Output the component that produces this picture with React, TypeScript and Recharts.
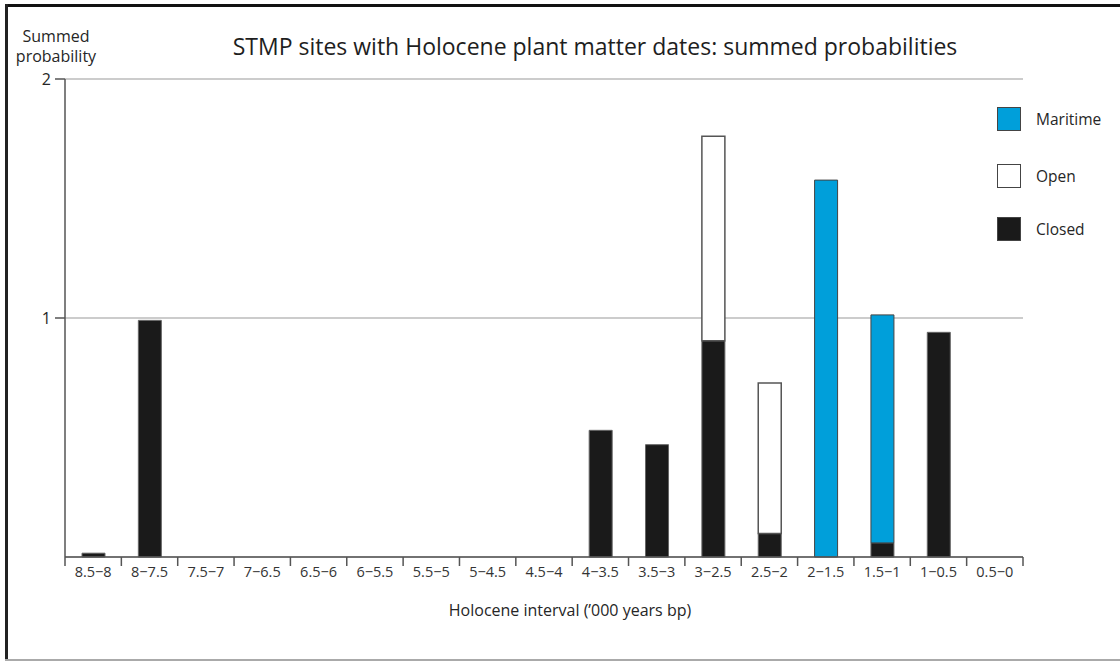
import { Bar, BarChart, CartesianGrid, XAxis, YAxis } from 'recharts';

const categories = [
  '8.5−8', '8−7.5', '7.5−7', '7−6.5', '6.5−6', '6−5.5', '5.5−5', '5−4.5', '4.5−4',
  '4−3.5', '3.5−3', '3−2.5', '2.5−2', '2−1.5', '1.5−1', '1−0.5', '0.5−0',
];
const closedValues = [0.016, 0.99, 0, 0, 0, 0, 0, 0, 0, 0.53, 0.47, 0.905, 0.098, 0, 0.059, 0.94, 0];
const openValues = [0, 0, 0, 0, 0, 0, 0, 0, 0, 0, 0, 0.855, 0.63, 0, 0, 0, 0];
const maritimeValues = [0, 0, 0, 0, 0, 0, 0, 0, 0, 0, 0, 0, 0, 1.577, 0.954, 0, 0];
const yTicks = [1, 2];

const MARITIME = '#009fda';
const CLOSED = '#1a1a1a';
const FONT = '"Open Sans", "Noto Sans", sans-serif';
const TEXT = '#262626';

const data = categories.map((name, i) => ({
  name,
  closed: closedValues[i],
  open: openValues[i],
  maritime: maritimeValues[i],
}));

function renderXTick(props: any) {
  const { x, y, payload, index } = props;
  const half = payload?.offset ?? 28.2;
  const last = index === categories.length - 1;
  return (
    <g key={`xt-${index}`}>
      <line x1={x - half} x2={x - half} y1={y} y2={y + 9} stroke="#555" strokeWidth={1.5} />
      {last && <line x1={x + half} x2={x + half} y1={y} y2={y + 9} stroke="#555" strokeWidth={1.5} />}
      <text x={x} y={y + 20} textAnchor="middle" fill="#333" fontSize="14.5px" fontFamily={FONT}>
        {payload.value}
      </text>
    </g>
  );
}

function renderYTick(props: any) {
  const { x, y, payload, index } = props;
  return (
    <text key={`yt-${index}`} x={x} y={y + 6} textAnchor="end" fill={TEXT} fontSize="16px" fontFamily={FONT}>
      {payload.value}
    </text>
  );
}

const legendItems = [
  { label: 'Maritime', fill: MARITIME, top: 107 },
  { label: 'Open', fill: '#fff', top: 164 },
  { label: 'Closed', fill: CLOSED, top: 217 },
];

export default function App() {
  return (
    <div style={{ position: 'absolute', left: 0, top: 0, width: 1120, height: 662, background: '#fff', fontFamily: FONT }}>
      {/* frame */}
      <div style={{ position: 'absolute', left: 5, top: 4, width: 1115, height: 3, background: '#111' }} />
      <div style={{ position: 'absolute', left: 5, top: 4, width: 3, height: 657, background: '#222' }} />
      <div style={{ position: 'absolute', left: 5, top: 659, width: 1115, height: 2, background: '#aaa' }} />

      <div style={{ position: 'absolute', left: 0, top: 0 }}>
        <BarChart
          width={1120}
          height={662}
          data={data}
          margin={{ top: 79, right: 97, left: 25, bottom: 75 }}
          barSize={23}
        >
          <CartesianGrid horizontal vertical={false} stroke="#9a9a9a" strokeWidth={1.2} />
          <XAxis
            dataKey="name"
            height={30}
            tickLine={false}
            tickSize={0}
            tickMargin={0}
            axisLine={{ stroke: '#555', strokeWidth: 1.5 }}
            tick={renderXTick}
            interval={0}
          />
          <YAxis
            width={40}
            domain={[0, 2]}
            ticks={yTicks}
            tickSize={10}
            tickLine={{ stroke: '#555', strokeWidth: 1.5 }}
            axisLine={{ stroke: '#555', strokeWidth: 1.5 }}
            tick={renderYTick}
            tickMargin={4}
          />
          <Bar dataKey="closed" stackId="a" fill={CLOSED} stroke="#666" strokeWidth={1} isAnimationActive={false} />
          <Bar dataKey="open" stackId="a" fill="#fff" stroke="#555" strokeWidth={1.5} isAnimationActive={false} />
          <Bar dataKey="maritime" stackId="a" fill={MARITIME} stroke="#444" strokeWidth={1} isAnimationActive={false} />
        </BarChart>
      </div>

      <div style={{ position: 'absolute', left: 180, width: 830, top: 31, textAlign: 'center', fontSize: 23, lineHeight: '30px', color: '#1e1e1e' }}>
        STMP sites with Holocene plant matter dates: summed probabilities
      </div>
      <div style={{ position: 'absolute', left: 0, width: 112, top: 26, textAlign: 'center', fontSize: 16, lineHeight: '20px', color: TEXT }}>
        Summed
        <br />
        probability
      </div>
      <div style={{ position: 'absolute', left: 370, width: 400, top: 599, textAlign: 'center', fontSize: 16, lineHeight: '22px', color: TEXT }}>
        Holocene interval (’000 years bp)
      </div>

      {legendItems.map((item) => (
        <div key={item.label}>
          <div
            style={{
              position: 'absolute',
              left: 997,
              top: item.top,
              width: 22,
              height: 22,
              background: item.fill,
              border: '1.5px solid #444',
            }}
          />
          <div style={{ position: 'absolute', left: 1036, top: item.top + 1, fontSize: 15.5, lineHeight: '22px', color: TEXT }}>
            {item.label}
          </div>
        </div>
      ))}
    </div>
  );
}
